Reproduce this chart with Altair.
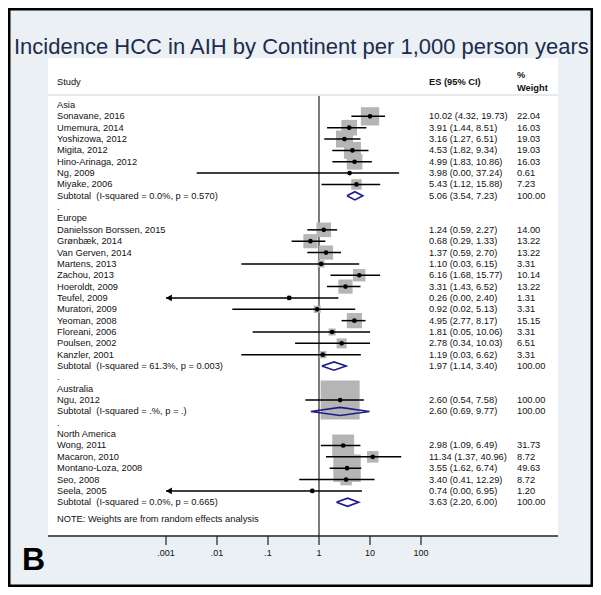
import altair as alt
import pandas as pd

# ---------------- data ----------------
group_names = ["Asia", "Europe", "Australia", "North America"]

asia_names = ["Sonavane, 2016", "Umemura, 2014", "Yoshizowa, 2012", "Migita, 2012",
              "Hino-Arinaga, 2012", "Ng, 2009", "Miyake, 2006"]
asia_es = [10.02, 3.91, 3.16, 4.53, 4.99, 3.98, 5.43]
asia_lo = [4.32, 1.44, 1.27, 1.82, 1.83, 0.004, 1.12]
asia_hi = [19.73, 8.51, 6.51, 9.34, 10.86, 37.24, 15.88]
asia_w = [22.04, 16.03, 19.03, 19.03, 16.03, 0.61, 7.23]

europe_names = ["Danielsson Borssen, 2015", "Grønbæk, 2014", "Van Gerven, 2014", "Martens, 2013",
                "Zachou, 2013", "Hoeroldt, 2009", "Teufel, 2009", "Muratori, 2009",
                "Yeoman, 2008", "Floreani, 2006", "Poulsen, 2002", "Kanzler, 2001"]
europe_es = [1.24, 0.68, 1.37, 1.10, 6.16, 3.31, 0.26, 0.92, 4.95, 1.81, 2.78, 1.19]
europe_lo = [0.59, 0.29, 0.59, 0.03, 1.68, 1.43, 0.0004, 0.02, 2.77, 0.05, 0.34, 0.03]
europe_hi = [2.27, 1.33, 2.70, 6.15, 15.77, 6.52, 2.40, 5.13, 8.17, 10.06, 10.03, 6.62]
europe_w = [14.00, 13.22, 13.22, 3.31, 10.14, 13.22, 1.31, 3.31, 15.15, 3.31, 6.51, 3.31]

australia_names = ["Ngu, 2012"]
australia_es = [2.60]
australia_lo = [0.54]
australia_hi = [7.58]
australia_w = [100.00]

namerica_names = ["Wong, 2011", "Macaron, 2010", "Montano-Loza, 2008", "Seo, 2008", "Seela, 2005"]
namerica_es = [2.98, 11.34, 3.55, 3.40, 0.74]
namerica_lo = [1.09, 1.37, 1.62, 0.41, 0.0004]
namerica_hi = [6.49, 40.96, 6.74, 12.29, 6.95]
namerica_w = [31.73, 8.72, 49.63, 8.72, 1.20]

sub_es = [5.06, 1.97, 2.60, 3.63]
sub_lo = [3.54, 1.14, 0.69, 2.20]
sub_hi = [7.23, 3.40, 9.77, 6.00]
sub_labels = ["Subtotal \u00a0(I-squared = 0.0%, p = 0.570)",
              "Subtotal \u00a0(I-squared = 61.3%, p = 0.003)",
              "Subtotal \u00a0(I-squared = .%, p = .)",
              "Subtotal \u00a0(I-squared = 0.0%, p = 0.665)"]

note_text = "NOTE: Weights are from random effects analysis"
tick_vals = [0.001, 0.01, 0.1, 1, 10, 100]
tick_labels = [".001", ".01", ".1", "1", "10", "100"]
title_text = "Incidence HCC in AIH by Continent per 1,000 person years"

# ---------------- build tables ----------------
groups = [
    (asia_names, asia_es, asia_lo, asia_hi, asia_w),
    (europe_names, europe_es, europe_lo, europe_hi, europe_w),
    (australia_names, australia_es, australia_lo, australia_hi, australia_w),
    (namerica_names, namerica_es, namerica_lo, namerica_hi, namerica_w),
]
XMIN_CLIP = 0.001

label_rows, study_rows, sub_rows, diamond_rows = [], [], [], []
r = 0
for gi, (names, es, lo, hi, w) in enumerate(groups):
    label_rows.append({"row": r, "label": group_names[gi]})
    r += 1
    for n, e, l, h, wt in zip(names, es, lo, hi, w):
        label_rows.append({"row": r, "label": n})
        study_rows.append({"row": r, "es": e, "lo": l, "hi": h, "w": wt,
                           "lo_plot": max(l, XMIN_CLIP), "arrow": l < XMIN_CLIP,
                           "es_txt": f"{e:.2f} ({l:.2f}, {h:.2f})", "w_txt": f"{wt:.2f}"})
        r += 1
    label_rows.append({"row": r, "label": sub_labels[gi]})
    sub_rows.append({"row": r, "es_txt": f"{sub_es[gi]:.2f} ({sub_lo[gi]:.2f}, {sub_hi[gi]:.2f})",
                     "w_txt": "100.00"})
    half = 0.36
    pts = [(sub_lo[gi], r), (sub_es[gi], r - half), (sub_hi[gi], r), (sub_es[gi], r + half), (sub_lo[gi], r)]
    for k, (xv, yv) in enumerate(pts):
        diamond_rows.append({"g": gi, "k": k, "x": xv, "row": yv})
    r += 1
    if gi < len(groups) - 1:
        label_rows.append({"row": r, "label": "."})
        r += 1
label_rows.append({"row": 36.45, "label": note_text})

df_labels = pd.DataFrame(label_rows)
df_studies = pd.DataFrame(study_rows)
df_sub = pd.DataFrame(sub_rows)
df_text = pd.concat([df_studies[["row", "es_txt", "w_txt"]], df_sub], ignore_index=True)
df_diam = pd.DataFrame(diamond_rows)
df_arrow = df_studies[df_studies["arrow"]].assign(xa=XMIN_CLIP)
df_ticks = pd.DataFrame({"v": tick_vals, "lab": tick_labels})
df_one = pd.DataFrame({"v": [1]})

# ---------------- scales ----------------
W, H = 585, 579
LOGMIN, LOGMAX = -6.098, 5.373
xscale = alt.Scale(type="log", domain=[10 ** LOGMIN, 10 ** LOGMAX], nice=False)
yscale = alt.Scale(domain=[-8.546, 42.467], reverse=True, nice=False, zero=False)
F = "Liberation Sans"
FS = 9.3
Y = alt.Y("row:Q", scale=yscale, axis=None)

base1 = alt.Chart(df_one)

panel = base1.mark_rect(color="white").encode(
    x=alt.value(40), x2=alt.value(550), y=alt.value(50), y2=alt.value(528))
sep = base1.mark_rule(color="#d4d4d4", strokeWidth=1).encode(
    x=alt.value(40), x2=alt.value(550), y=alt.value(87))
axis_line = base1.mark_rule(color="#222", strokeWidth=1.3).encode(
    x=alt.value(40), x2=alt.value(550), y=alt.value(528))
null_line = base1.mark_rule(color="#222", strokeWidth=1.2).encode(
    x=alt.X("v:Q", scale=xscale, axis=None), y=alt.value(88), y2=alt.value(528))

ticks = alt.Chart(df_ticks).mark_rule(color="#222", strokeWidth=1.2).encode(
    x=alt.X("v:Q", scale=xscale, axis=None), y=alt.value(528), y2=alt.value(537))
tick_text = alt.Chart(df_ticks).mark_text(font=F, fontSize=9, color="#111", baseline="middle").encode(
    x=alt.X("v:Q", scale=xscale, axis=None), y=alt.value(545), text="lab:N")

title = base1.mark_text(font=F, fontSize=22, color="#1d2b4e", align="left", baseline="middle").encode(
    x=alt.value(6), y=alt.value(39), text=alt.value(title_text))
blabel = base1.mark_text(font=F, fontSize=32, fontWeight="bold", color="#000", align="left",
                         baseline="alphabetic").encode(
    x=alt.value(14), y=alt.value(562), text=alt.value("B"))

h_study = base1.mark_text(font=F, fontSize=FS, color="#111", align="left", baseline="middle").encode(
    x=alt.value(49), y=alt.value(74), text=alt.value("Study"))
h_es = base1.mark_text(font=F, fontSize=FS, fontWeight="bold", color="#111", align="left",
                       baseline="middle").encode(
    x=alt.value(421), y=alt.value(74), text=alt.value("ES (95% CI)"))
h_pct = base1.mark_text(font=F, fontSize=FS, fontWeight="bold", color="#111", align="left",
                        baseline="middle").encode(
    x=alt.value(509), y=alt.value(67), text=alt.value("%"))
h_w = base1.mark_text(font=F, fontSize=FS, fontWeight="bold", color="#111", align="left",
                      baseline="middle").encode(
    x=alt.value(509), y=alt.value(80), text=alt.value("Weight"))

labels = alt.Chart(df_labels).mark_text(font=F, fontSize=FS, color="#111", align="left",
                                        baseline="middle").encode(
    x=alt.value(49), y=Y, text="label:N")
es_col = alt.Chart(df_text).mark_text(font=F, fontSize=FS, color="#111", align="left",
                                      baseline="middle").encode(
    x=alt.value(421), y=Y, text="es_txt:N")
w_col = alt.Chart(df_text).mark_text(font=F, fontSize=FS, color="#111", align="left",
                                     baseline="middle").encode(
    x=alt.value(509), y=Y, text="w_txt:N")

squares = alt.Chart(df_studies).mark_square(color="#b5b5b5", opacity=1).encode(
    x=alt.X("es:Q", scale=xscale, axis=None), y=Y,
    size=alt.Size("w:Q", scale=alt.Scale(domain=[0, 100], range=[0, 1521]), legend=None))
ci = alt.Chart(df_studies).mark_rule(color="#000", strokeWidth=1.5).encode(
    x=alt.X("lo_plot:Q", scale=xscale, axis=None), x2="hi:Q", y=Y)
dots = alt.Chart(df_studies).mark_circle(color="#000", size=22, opacity=1).encode(
    x=alt.X("es:Q", scale=xscale, axis=None), y=Y)
arrows = alt.Chart(df_arrow).mark_point(shape="triangle-left", filled=True, color="#000",
                                        size=45, opacity=1).encode(
    x=alt.X("xa:Q", scale=xscale, axis=None), y=Y, xOffset=alt.value(3))
diamonds = alt.Chart(df_diam).mark_line(color="#1c1c8c", strokeWidth=1.6).encode(
    x=alt.X("x:Q", scale=xscale, axis=None), y=Y, detail="g:N", order="k:Q")

chart = alt.layer(
    panel, sep, axis_line, null_line, ticks, tick_text, title, blabel,
    h_study, h_es, h_pct, h_w, labels, es_col, w_col,
    squares, ci, dots, arrows, diamonds
).properties(
    width=W, height=H, padding=0, autosize=alt.AutoSizeParams(type="none")
).configure_view(
    fill="#eaf0f3", stroke="#000", strokeWidth=5
)

chart.save("out.html", embed_options={"renderer": "svg", "actions": False})
